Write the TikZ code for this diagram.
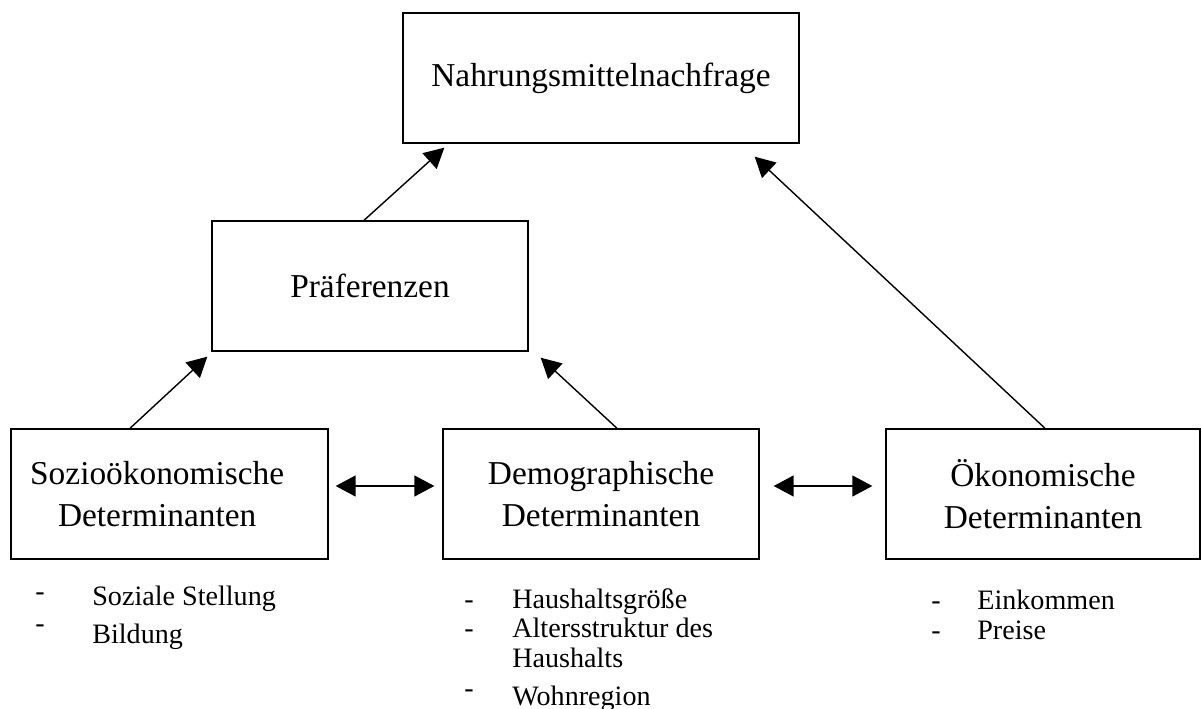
\documentclass[tikz,border=0pt]{standalone}
\usepackage{fontspec}
\setmainfont{Liberation Serif}
\usetikzlibrary{arrows.meta}

\begin{document}
\begin{tikzpicture}[x=0.02cm, y=-0.02cm,
    box/.style = {draw, line width=0.8pt, minimum height=2.6cm, align=center, font=\fontsize{19}{24}\selectfont},
    arrow/.style = {line width=0.8pt, -{Triangle[length=4mm,width=4.2mm]}},
    twoway/.style = {line width=0.8pt, {Triangle[length=4mm,width=4.2mm]}-{Triangle[length=4mm,width=4.2mm]}},
    item/.style = {anchor=base west, inner sep=0pt, font=\fontsize{16}{19}\selectfont}]
    \useasboundingbox (0,0) rectangle (1202,709);

    % boxes
    \node [box, minimum width=7.92cm] (nahrung) at (601,78) {Nahrungsmittelnachfrage};
    \node [box, minimum width=6.32cm] (praef) at (370,286) {Präferenzen};
    \node [box, minimum width=6.34cm] (sozio) at (169.5,494) {Sozioökonomische\hspace*{14pt}\\Determinanten\hspace*{14pt}};
    \node [box, minimum width=6.32cm] (demo) at (601,494) {Demographische\\Determinanten};
    \node [box, minimum width=6.28cm] (oeko) at (1043,494) {Ökonomische\\Determinanten};

    % influences
    \draw [arrow] ([shift={(-39.5,0)}]sozio.north) -- ([shift={(-4,5)}]praef.south west);
    \draw [arrow] ([shift={(16,0)}]demo.north) -- ([shift={(12,6)}]praef.south east);
    \draw [arrow] ([shift={(-6,0)}]praef.north) -- ([shift={(42,4)}]nahrung.south west);
    \draw [arrow] ([shift={(2,0)}]oeko.north) -- ([shift={(-45,13)}]nahrung.south east);
    \draw [twoway] ([shift={(7,-8)}]sozio.east) -- ([shift={(-8,-8)}]demo.west);
    \draw [twoway] ([shift={(14,-8)}]demo.east) -- ([shift={(-13,-8)}]oeko.west);

    % lists
    \node [item] (sd1) at (35,600) {-};
    \node [item] (sl1) at (92,605) {Soziale Stellung};
    \node [item] (sd2) at (35,632) {-};
    \node [item] (sl2) at (92,643) {Bildung};

    \node [item] (dd1) at (464,608) {-};
    \node [item] (dl1) at (512,608) {Haushaltsgröße};
    \node [item] (dd2) at (464,637) {-};
    \node [item] (dl2) at (512,637) {Altersstruktur des};
    \node [item] (dl3) at (512,667) {Haushalts};
    \node [item] (dd3) at (464,697) {-};
    \node [item] (dl4) at (512,705) {Wohnregion};

    \node [item] (od1) at (931,609) {-};
    \node [item] (ol1) at (977,609) {Einkommen};
    \node [item] (od2) at (931,639) {-};
    \node [item] (ol2) at (977,639) {Preise};
\end{tikzpicture}
\end{document}
